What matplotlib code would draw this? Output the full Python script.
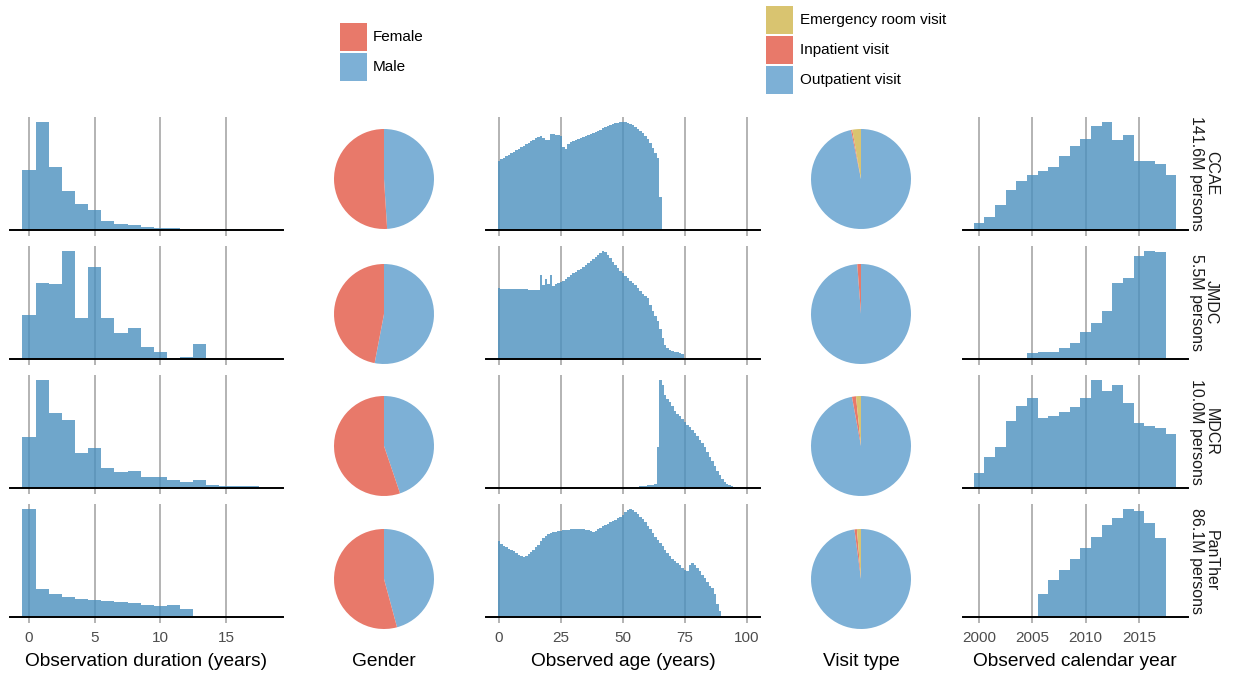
import matplotlib
matplotlib.use("Agg")
import matplotlib.pyplot as plt
from matplotlib.patches import Rectangle

plt.rcParams['font.family'] = ['Liberation Sans', 'DejaVu Sans']

# ---------------------------------------------------------------- data
databases = ["CCAE", "JMDC", "MDCR", "PanTher"]
persons = ["141.6M persons", "5.5M persons", "10.0M persons", "86.1M persons"]

# Observation duration, one bar per year starting at 0 (relative counts)
duration_ccae = [60, 107.3, 63, 39.3, 25.7, 20.3, 9.3, 6.3, 4.7, 3.3, 2.3,
                 1.7, 1.3, 1.2, 1.0, 0.8, 0.6]
duration_jmdc = [44.3, 76, 75.3, 107.6, 41.3, 91.6, 40.6, 25.6, 30.6, 12.3,
                 7, 1.3, 1.9, 15]
duration_mdcr = [50.7, 108, 75.3, 68.4, 34.7, 39.7, 19.7, 15.7, 17, 10.7,
                 11.4, 8.4, 6.4, 7.7, 3, 1.7, 2.4, 2.4]
duration_panther = [108.4, 28.7, 23.4, 20.4, 18.4, 17.4, 16, 14.7, 13.7,
                    12.4, 10.7, 11.7, 8.4]

# Observed age, one bar per year of age
age_start_ccae = 0
age_ccae = [69, 71, 72.5, 74, 75.5, 77, 78.5, 80, 81.5, 83, 84.5, 86, 87.5,
            89, 90.5, 92, 93, 94, 92, 90, 90, 96, 96.5, 95, 95, 94, 83, 81,
            86, 88, 89.5, 90.5, 91.5, 92.5, 93.5, 94, 95, 96, 97, 98, 99,
            100.5, 102, 103, 104.5, 105.5, 106.5, 107, 107.5, 108, 108, 108,
            107.5, 106.5, 105, 103.5, 101.5, 99, 97, 94, 91, 87, 82, 77, 72,
            33]
age_start_jmdc = 0
age_jmdc = [71, 70.5, 70.3, 70.2, 70, 70, 69.8, 69.8, 69.7, 69.7, 69.6,
            69.6, 69.5, 69.5, 69.5, 69.5, 69.4, 84, 74, 80, 75, 84, 73, 75,
            76, 77, 78.5, 80, 82, 84, 86, 87.5, 89, 90.5, 92, 94, 96, 98,
            100, 102, 104, 106, 107.7, 107.3, 104.5, 101, 97.5, 94.3, 91.5,
            88.5, 86, 83.5, 81, 78.5, 76.5, 74.3, 71, 67.7, 65, 62.7, 61,
            54.3, 47.7, 42.7, 37.7, 30, 21, 14.3, 11, 9.3, 7.7, 7, 6.7, 6,
            5.3]
age_start_mdcr = 50
age_mdcr = [0.2, 0.3, 0.4, 0.6, 0.8, 1.0, 1.3, 1.6, 2, 2.3, 2.6, 3, 3.3,
            3.6, 41, 108, 103.7, 93.7, 89.7, 86, 82, 77, 74.3, 72, 69.7,
            66.3, 63.7, 61.3, 58.7, 55.3, 52, 48, 44.7, 41, 36.3, 31.3, 27,
            22, 17, 12.7, 8.7, 6, 4.3, 3, 2, 1.3, 1, 0.7, 0.5, 0.3]
age_start_panther = 0
age_panther = [76.7, 73.3, 71.5, 70, 68.8, 67.7, 66, 64.3, 62.5, 61, 60.3,
               61.5, 63.3, 65.5, 67.7, 70, 72.7, 76.5, 80, 82, 83.3, 84.5,
               85.3, 86, 86.5, 87, 87.3, 87.7, 88, 88.5, 88.8, 89, 88.8,
               88.5, 88.3, 87.8, 87.2, 86.7, 86, 87, 88.3, 89.8, 91.2, 92.7,
               94, 95.4, 96.7, 98, 99.2, 100.3, 103, 106, 107.5, 108.3,
               107.5, 106, 103.5, 101, 98.2, 95.3, 91.8, 88.3, 84.6, 81,
               77.6, 74.3, 71, 67.7, 64.3, 61, 58.5, 56, 54, 52, 49.8, 47.7,
               46, 52.7, 54.3, 52.7, 49.3, 46, 42.7, 39.3, 35.3, 31, 28.7,
               22.7, 12.7, 6]

# Observed calendar year, one bar per year
year_start_ccae = 2000
year_ccae = [7.4, 13, 25, 39.7, 49.4, 55, 58.7, 63, 74, 84.4, 91.4, 104.4,
             107.7, 90, 94.7, 69.4, 68.7, 66.4, 55]
year_start_jmdc = 2005
year_jmdc = [6.3, 7, 7.3, 10.6, 16.3, 27.3, 35.6, 48, 75.6, 80.6, 102.6,
             107.6, 107]
year_start_mdcr = 2000
year_mdcr = [14.7, 31.4, 40.7, 67, 82.7, 90.7, 70.7, 72, 76, 81, 90, 108,
             97.4, 103.4, 85.7, 65, 62, 60, 54]
year_start_panther = 2006
year_panther = [23.4, 37.4, 47.4, 58, 69, 81, 92.4, 99.7, 108.4, 107, 94.4,
                79.4]

# Gender split (% of persons)
gender_labels = ["Female", "Male"]
female_pct = [51.0, 47.0, 55.2, 54.2]
male_pct = [49.0, 53.0, 44.8, 45.8]

# Visit type split (% of visits)
visit_labels = ["Emergency room visit", "Inpatient visit", "Outpatient visit"]
er_pct = [2.8, 0.0, 1.6, 1.3]
inpatient_pct = [0.4, 1.2, 1.3, 0.8]
outpatient_pct = [96.8, 98.8, 97.1, 97.9]

duration_ticks = [0, 5, 10, 15]
age_ticks = [0, 25, 50, 75, 100]
year_ticks = [2000, 2005, 2010, 2015]

# ---------------------------------------------------------------- style
BAR = '#4B90BF'
BAR_ALPHA = 0.8
GRID = '#b3b3b3'
FEMALE = '#E8796A'
MALE = '#7DB0D6'
ER = '#D9C470'
INPATIENT = '#E8796A'
OUTPATIENT = '#7DB0D6'
TICK_TXT = '#4d4d4d'

W, H = 1241, 675
fig = plt.figure(figsize=(W / 100, H / 100), dpi=100)


def px_axes(left, top, width, height):
    return fig.add_axes([left / W, 1 - (top + height) / H, width / W, height / H])


baselines = [230, 359, 488, 617]
panel_h = 113

duration_data = [duration_ccae, duration_jmdc, duration_mdcr, duration_panther]
age_data = [(age_start_ccae, age_ccae), (age_start_jmdc, age_jmdc),
            (age_start_mdcr, age_mdcr), (age_start_panther, age_panther)]
year_data = [(year_start_ccae, year_ccae), (year_start_jmdc, year_jmdc),
             (year_start_mdcr, year_mdcr), (year_start_panther, year_panther)]


def hist_panel(ax, start, values, xlim, ticks, show_labels):
    xs = [start + i for i in range(len(values))]
    ax.bar(xs, values, width=1.0, color=BAR, alpha=BAR_ALPHA, linewidth=0,
           zorder=2)
    ax.set_xlim(*xlim)
    ax.set_ylim(0, max(values) * 1.05)
    ax.set_xticks(ticks)
    ax.set_yticks([])
    ax.xaxis.grid(True, color=GRID, linewidth=1.4, zorder=0)
    ax.set_axisbelow(True)
    for s in ['top', 'left', 'right']:
        ax.spines[s].set_visible(False)
    ax.spines['bottom'].set_color('black')
    ax.spines['bottom'].set_linewidth(1.4)
    ax.spines['bottom'].set_zorder(3)
    ax.tick_params(axis='x', direction='out', length=4, width=1.4,
                   color=GRID, labelsize=11, labelcolor=TICK_TXT, pad=6)
    if not show_labels:
        ax.tick_params(axis='x', labelbottom=False)
    ax.patch.set_alpha(0)


def pie_panel(cx, cy, r, sizes, colors):
    ax = px_axes(cx - r, cy - r, 2 * r, 2 * r)
    ax.pie(sizes, colors=colors, startangle=90, counterclock=False,
           radius=1.0, wedgeprops=dict(linewidth=0))
    ax.set_xlim(-1, 1)
    ax.set_ylim(-1, 1)
    ax.set_aspect('equal')
    ax.axis('off')


pie_centers_y = [179, 314, 446, 579]

for row in range(4):
    b = baselines[row]
    last = row == 3

    ax = px_axes(10, b - panel_h, 273, panel_h)
    hist_panel(ax, 0, duration_data[row], (-1.447, 19.34), duration_ticks, last)

    ax = px_axes(486, b - panel_h, 274, panel_h)
    s, v = age_data[row]
    hist_panel(ax, s, v, (-5.24, 105.2), age_ticks, last)

    ax = px_axes(963, b - panel_h, 225, panel_h)
    s, v = year_data[row]
    hist_panel(ax, s, v, (1998.5, 2019.59), year_ticks, last)

    pie_panel(384, pie_centers_y[row], 50, [male_pct[row], female_pct[row]],
              [MALE, FEMALE])
    pie_panel(861, pie_centers_y[row], 50,
              [outpatient_pct[row], inpatient_pct[row], er_pct[row]],
              [OUTPATIENT, INPATIENT, ER])

    fig.text(1204 / W, 1 - (b - panel_h / 2) / H,
             f"{databases[row]}\n{persons[row]}", rotation=270,
             ha='center', va='center', multialignment='center',
             fontsize=11.5, color='#1a1a1a', linespacing=1.0)

# ---------------------------------------------------------------- titles
titles = [("Observation duration (years)", 146),
          ("Gender", 384),
          ("Observed age (years)", 623),
          ("Visit type", 861),
          ("Observed calendar year", 1075)]
for t, x in titles:
    fig.text(x / W, 1 - 662 / H, t, ha='center', va='center', fontsize=13.8,
             color='black')

# ---------------------------------------------------------------- legends
lg = fig.add_axes([0, 0, 1, 1])
lg.set_xlim(0, W)
lg.set_ylim(H, 0)
lg.axis('off')
lg.patch.set_alpha(0)

for i, (lab, col) in enumerate(zip(gender_labels, [FEMALE, MALE])):
    y0 = 23 + i * 30
    lg.add_patch(Rectangle((340, y0), 27, 28, facecolor=col, edgecolor='none'))
    lg.text(373, y0 + 14, lab, ha='left', va='center', fontsize=11)

for i, (lab, col) in enumerate(zip(visit_labels, [ER, INPATIENT, OUTPATIENT])):
    y0 = 6 + i * 30
    lg.add_patch(Rectangle((766, y0), 27, 28, facecolor=col, edgecolor='none'))
    lg.text(800, y0 + 14, lab, ha='left', va='center', fontsize=11)

fig.savefig("out.png", dpi=100)
